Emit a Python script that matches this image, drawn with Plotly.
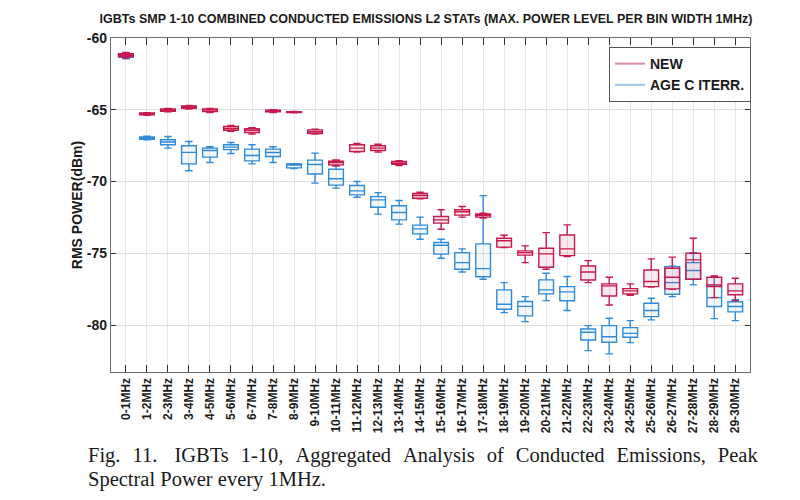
import plotly.graph_objects as go

categories = [f"{i}-{i+1}MHz" for i in range(30)]

# NEW (red) box statistics
new_upper = [-61.0, -65.20, -64.90, -64.70, -64.90, -66.10, -66.25, -65.00, -65.12, -66.35,
             -68.50, -67.35, -67.40, -68.55, -70.75, -71.97, -71.74, -72.20, -73.74, -74.48,
             -73.56, -73.02, -75.51, -76.67, -77.13, -75.39, -75.27, -73.95, -76.58, -76.74]
new_q3 = [-61.10, -65.22, -64.95, -64.74, -64.95, -66.17, -66.32, -65.03, -65.13, -66.40,
          -68.58, -67.44, -67.51, -68.60, -70.83, -72.44, -71.97, -72.25, -73.95, -74.83,
          -74.65, -73.72, -75.88, -77.13, -77.46, -76.16, -76.04, -75.00, -76.67, -77.13]
new_med = [-61.20, -65.28, -65.02, -64.81, -65.02, -66.30, -66.44, -65.09, -65.16, -66.53,
           -68.67, -67.67, -67.67, -68.72, -70.97, -72.67, -72.11, -72.35, -74.13, -74.95,
           -75.04, -74.69, -76.30, -77.27, -77.62, -76.97, -76.67, -75.46, -77.20, -77.62]
new_q1 = [-61.30, -65.35, -65.10, -64.90, -65.13, -66.43, -66.59, -65.15, -65.20, -66.65,
          -68.84, -67.91, -67.84, -68.80, -71.16, -72.90, -72.34, -72.48, -74.57, -75.13,
          -75.97, -75.16, -76.86, -77.97, -77.83, -77.32, -77.48, -76.81, -77.32, -77.89]
new_lower = [-61.40, -65.38, -65.15, -64.95, -65.20, -66.50, -66.70, -65.20, -65.22, -66.70,
             -68.90, -67.95, -67.95, -68.88, -71.20, -73.32, -72.48, -72.55, -74.60, -75.65,
             -76.11, -75.23, -77.04, -78.60, -77.92, -77.36, -77.50, -76.81, -78.09, -78.30]

# AGE C ITERR. (blue) box statistics
age_upper = [-61.05, -66.85, -66.86, -67.21, -67.58, -67.28, -67.44, -67.58, -68.75, -68.02,
             -68.90, -70.00, -70.77, -71.32, -72.48, -74.02, -74.69, -70.98, -77.04, -78.02,
             -76.39, -76.62, -80.04, -79.52, -79.69, -78.13, -75.90, -74.95, -76.62, -78.24]
age_q3 = [-61.15, -66.90, -67.09, -67.51, -67.67, -67.44, -67.74, -67.74, -68.78, -68.51,
          -69.14, -70.28, -71.05, -71.69, -73.04, -74.25, -74.95, -74.34, -77.55, -78.36,
          -76.85, -77.32, -80.27, -80.04, -80.18, -78.48, -75.93, -75.65, -77.27, -78.38]
age_med = [-61.25, -66.97, -67.25, -67.97, -67.84, -67.60, -68.19, -67.98, -68.86, -68.81,
           -69.81, -70.65, -71.28, -72.16, -73.30, -74.44, -75.65, -76.07, -78.55, -78.70,
           -77.55, -77.69, -80.50, -80.81, -80.58, -78.99, -77.04, -76.20, -78.09, -78.71]
age_q1 = [-61.35, -67.05, -67.44, -68.77, -68.30, -67.78, -68.56, -68.26, -69.05, -69.48,
          -70.25, -70.93, -71.79, -72.67, -73.65, -75.06, -76.11, -76.63, -78.90, -79.36,
          -77.83, -78.31, -81.04, -81.20, -80.85, -79.41, -77.85, -76.81, -78.71, -79.08]
age_lower = [-61.45, -67.10, -67.67, -69.25, -68.67, -68.05, -68.77, -68.67, -69.10, -70.11,
             -70.46, -71.09, -72.27, -72.97, -74.02, -75.34, -76.30, -76.81, -79.13, -79.76,
             -78.30, -78.99, -81.78, -82.01, -81.22, -79.64, -78.02, -77.20, -79.55, -79.69]

yticks = [-80, -75, -70, -65, -60]

RED = "#C8194C"
BLUE = "#2F8BD8"
RED_LEG = "#D98AA2"
BLUE_LEG = "#9DC7EA"

fig = go.Figure()

fig.add_trace(go.Box(
    x=categories, q1=age_q1, median=age_med, q3=age_q3,
    lowerfence=age_lower, upperfence=age_upper,
    line=dict(color=BLUE, width=1.4), fillcolor="rgba(47,139,216,0.06)",
    width=0.7, whiskerwidth=0.5, showlegend=False, name="AGE C ITERR.",
    hoverinfo="skip",
))
fig.add_trace(go.Box(
    x=categories, q1=new_q1, median=new_med, q3=new_q3,
    lowerfence=new_lower, upperfence=new_upper,
    line=dict(color=RED, width=1.4), fillcolor="rgba(200,25,76,0.10)",
    width=0.7, whiskerwidth=0.5, showlegend=False, name="NEW",
    hoverinfo="skip",
))

# legend entries as lines
fig.add_trace(go.Scatter(x=[None], y=[None], mode="lines", name="NEW",
                         line=dict(color=RED_LEG, width=2)))
fig.add_trace(go.Scatter(x=[None], y=[None], mode="lines", name="AGE C ITERR.",
                         line=dict(color=BLUE_LEG, width=2)))

L, R, T, B = 111, 50, 38, 128
plot_w = 800 - L - R
plot_h = 500 - T - B


def px_x(p):
    return (p - L) / plot_w


def px_y(p):
    return (500 - B - p) / plot_h


SANS = "Liberation Sans, Arial, sans-serif"
SERIF = "Liberation Serif, Times New Roman, serif"
SP = " \u2004"  # widened (justified) word gap

fig.update_layout(
    width=800, height=500,
    margin=dict(l=L, r=R, t=T, b=B),
    paper_bgcolor="white", plot_bgcolor="white",
    boxmode="overlay",
    font=dict(family=SANS, color="#1a1a1a"),
    title=dict(
        text="<b>IGBTs SMP 1-10 COMBINED CONDUCTED EMISSIONS L2 STATs (MAX. POWER LEVEL PER BIN WIDTH 1MHz)</b>",
        x=426 / 800, xanchor="center", y=1 - 19 / 500, yanchor="middle",
        font=dict(family=SANS, size=12.5, color="#1a1a1a"),
    ),
    xaxis=dict(
        type="category", range=[-0.71, 29.7],
        showgrid=True, gridcolor="#E6E6E6", gridwidth=1,
        showline=True, linecolor="#6E6E6E", linewidth=1.2, mirror="ticks",
        ticks="inside", ticklen=7, tickcolor="#333333", tickwidth=1,
        tickangle=-90,
        tickfont=dict(family=SANS, size=12, color="#1a1a1a", weight="bold"),
        zeroline=False,
    ),
    yaxis=dict(
        range=[-83.27, -60], tickvals=yticks,
        ticktext=[str(v) for v in yticks],
        showgrid=True, gridcolor="#E0E0E0", gridwidth=1,
        showline=True, linecolor="#6E6E6E", linewidth=1.2, mirror="ticks",
        ticks="inside", ticklen=5, tickcolor="#333333",
        tickfont=dict(family=SANS, size=14, color="#1a1a1a", weight="bold"),
        title=dict(text="<b>RMS POWER(dBm)</b>", standoff=0,
                   font=dict(family=SANS, size=14, color="#1a1a1a")),
        zeroline=False,
    ),
    legend=dict(
        x=px_x(609), y=px_y(47), xanchor="left", yanchor="top",
        bordercolor="#555555", borderwidth=1, bgcolor="white",
        font=dict(family=SANS, size=14, color="#1a1a1a", weight="bold"),
        tracegroupgap=0, itemwidth=30,
    ),
    showlegend=True,
)

line1 = SP.join(["Fig.", "11.", "\u2005IGBTs", "1-10,", "Aggregated", "Analysis", "of",
                 "Conducted", "Emissions,", "Peak"])
fig.add_annotation(
    text=line1,
    xref="paper", yref="paper", x=px_x(86), y=px_y(455), xanchor="left", yanchor="middle",
    showarrow=False,
    font=dict(family=SERIF, size=20.5, color="#1a1a1a"),
)
fig.add_annotation(
    text="Spectral Power every 1MHz.",
    xref="paper", yref="paper", x=px_x(86), y=px_y(479), xanchor="left", yanchor="middle",
    showarrow=False,
    font=dict(family=SERIF, size=20.5, color="#1a1a1a"),
)

fig.write_html("out.html")
